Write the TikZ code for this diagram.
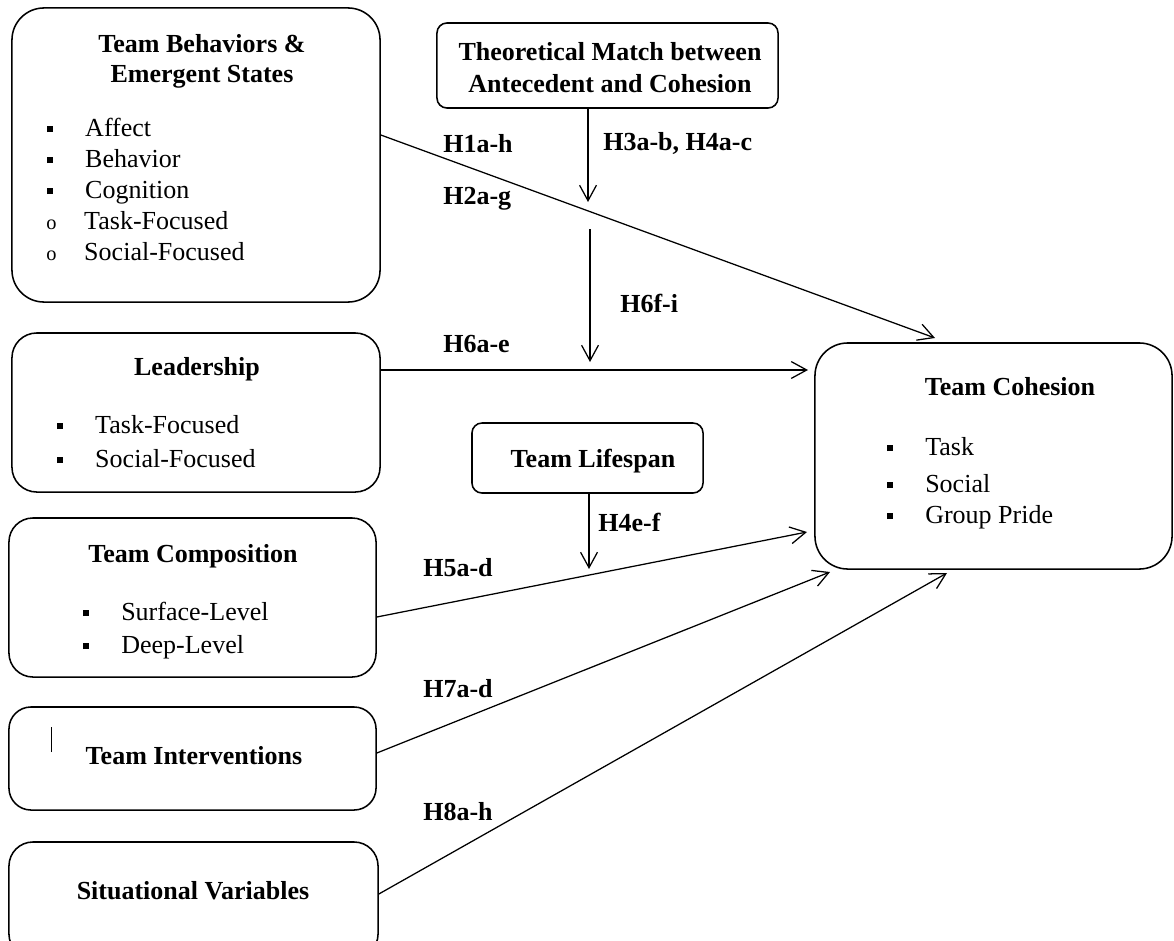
\documentclass[tikz,border=0pt]{standalone}
\usepackage{fontspec}
\setmainfont{Liberation Serif}
\usetikzlibrary{arrows.meta}

\newcommand{\sqbul}{\makebox[27pt][l]{\rule[2.8pt]{4.2pt}{4.6pt}}}
\newcommand{\cirbul}{\makebox[27pt][l]{\fontsize{14.5}{14.5}\selectfont o}}

\tikzset{
    box/.style={draw, line width=1.1pt, rounded corners=#1, inner sep=0pt},
    box/.default=0.6cm,
    head/.style={font=\bfseries\fontsize{18.5}{22}\selectfont, inner sep=0pt, anchor=base},
    item/.style={font=\fontsize{18.5}{22}\selectfont, inner sep=0pt, anchor=base west},
    hyp/.style={font=\bfseries\fontsize{18.5}{22}\selectfont, inner sep=0pt, anchor=base west},
    link/.style={line width=0.9pt, -{Straight Barb[length=11pt,width=12pt]}}
}

\begin{document}
\begin{tikzpicture}[x=0.025cm, y=-0.025cm]
    \useasboundingbox (0,0) rectangle (1174,940);
    \clip (0,0) rectangle (1174,940);

    % antecedent boxes on the left
    \node [box=0.8cm, minimum width=9.2cm, minimum height=7.35cm] (behav) at (196,155) {};
    \node [head] (behavA) at (202,52) {Team Behaviors \&};
    \node [head] (behavB) at (202,82) {Emergent States};
    \node [item] (affect) at (47,136) {\sqbul Affect};
    \node [item] (behavior) at (47,167) {\sqbul Behavior};
    \node [item] (cognition) at (47,198) {\sqbul Cognition};
    \node [item] (taskfoc) at (46,229) {\cirbul Task-Focused};
    \node [item] (socfoc) at (46,260) {\cirbul Social-Focused};

    \node [box=0.62cm, minimum width=9.2cm, minimum height=3.975cm] (lead) at (196,412.5) {};
    \node [head] (leadT) at (197,375) {Leadership};
    \node [item] (leadtask) at (57,433) {\sqbul Task-Focused};
    \node [item] (leadsoc) at (57,467) {\sqbul Social-Focused};

    \node [box=0.6cm, minimum width=9.175cm, minimum height=3.975cm] (comp) at (192.5,597.5) {};
    \node [head] (compT) at (193,562) {Team Composition};
    \node [item] (surface) at (83,620) {\sqbul Surface-Level};
    \node [item] (deep) at (83,653) {\sqbul Deep-Level};

    \node [box=0.55cm, minimum width=9.175cm, minimum height=2.575cm] (interv) at (192.5,758.5) {};
    \node [inner sep=0pt, anchor=base] (cursor) at (51,752) {\rule{0.7pt}{18pt}};
    \node [head] (intervT) at (194,764) {Team Interventions};

    \node [box=0.6cm, minimum width=9.225cm, minimum height=2.9cm] (situ) at (193.5,900) {};
    \node [head] (situT) at (193,899) {Situational Variables};

    % moderators
    \node [box=0.25cm, minimum width=8.525cm, minimum height=2.125cm] (theo) at (607.5,65.5) {};
    \node [head] (theoA) at (610,60) {Theoretical Match between};
    \node [head] (theoB) at (610,92) {Antecedent and Cohesion};

    \node [box=0.25cm, minimum width=5.775cm, minimum height=1.75cm] (span) at (587.5,458) {};
    \node [head] (spanT) at (593,467) {Team Lifespan};

    % outcome
    \node [box=0.82cm, minimum width=8.925cm, minimum height=5.65cm] (coh) at (993.5,456) {};
    \node [head] (cohT) at (1010,395) {Team Cohesion};
    \node [item] (task) at (887,455) {\sqbul Task};
    \node [item] (social) at (887,492) {\sqbul Social};
    \node [item] (pride) at (887,523) {\sqbul Group Pride};

    % arrow ends
    \coordinate (h1end) at (935,338);
    \coordinate (h6end) at (808,370);
    \coordinate (h5end) at (807,532);
    \coordinate (h7end) at (830,572);
    \coordinate (h8end) at (947,573);
    \coordinate (theoend) at (588,202);
    \coordinate (midstart) at (590,229);
    \coordinate (midend) at (590,362);
    \coordinate (spanend) at (589,569);

    \draw [link] (behav.east |- 0,135) -- (h1end);
    \draw [link] (lead.east |- 0,370) -- (h6end);
    \draw [link] (comp.east |- 0,617) -- (h5end);
    \draw [link] (interv.east |- 0,753) -- (h7end);
    \draw [link] (situ.east |- 0,894) -- (h8end);

    \draw [link] (theoend |- theo.south) -- (theoend);
    \draw [link] (midstart) -- (midend);
    \draw [link] (spanend |- span.south) -- (spanend);

    % hypothesis labels
    \node [hyp] (h1) at (443,152) {H1a-h};
    \node [hyp] (h2) at (443,204) {H2a-g};
    \node [hyp] (h34) at (603,150) {H3a-b, H4a-c};
    \node [hyp] (h6fi) at (620,312) {H6f-i};
    \node [hyp] (h6ae) at (443,352) {H6a-e};
    \node [hyp] (h4ef) at (598,531) {H4e-f};
    \node [hyp] (h5) at (423,576) {H5a-d};
    \node [hyp] (h7) at (423,697) {H7a-d};
    \node [hyp] (h8) at (423,820) {H8a-h};
\end{tikzpicture}
\end{document}
